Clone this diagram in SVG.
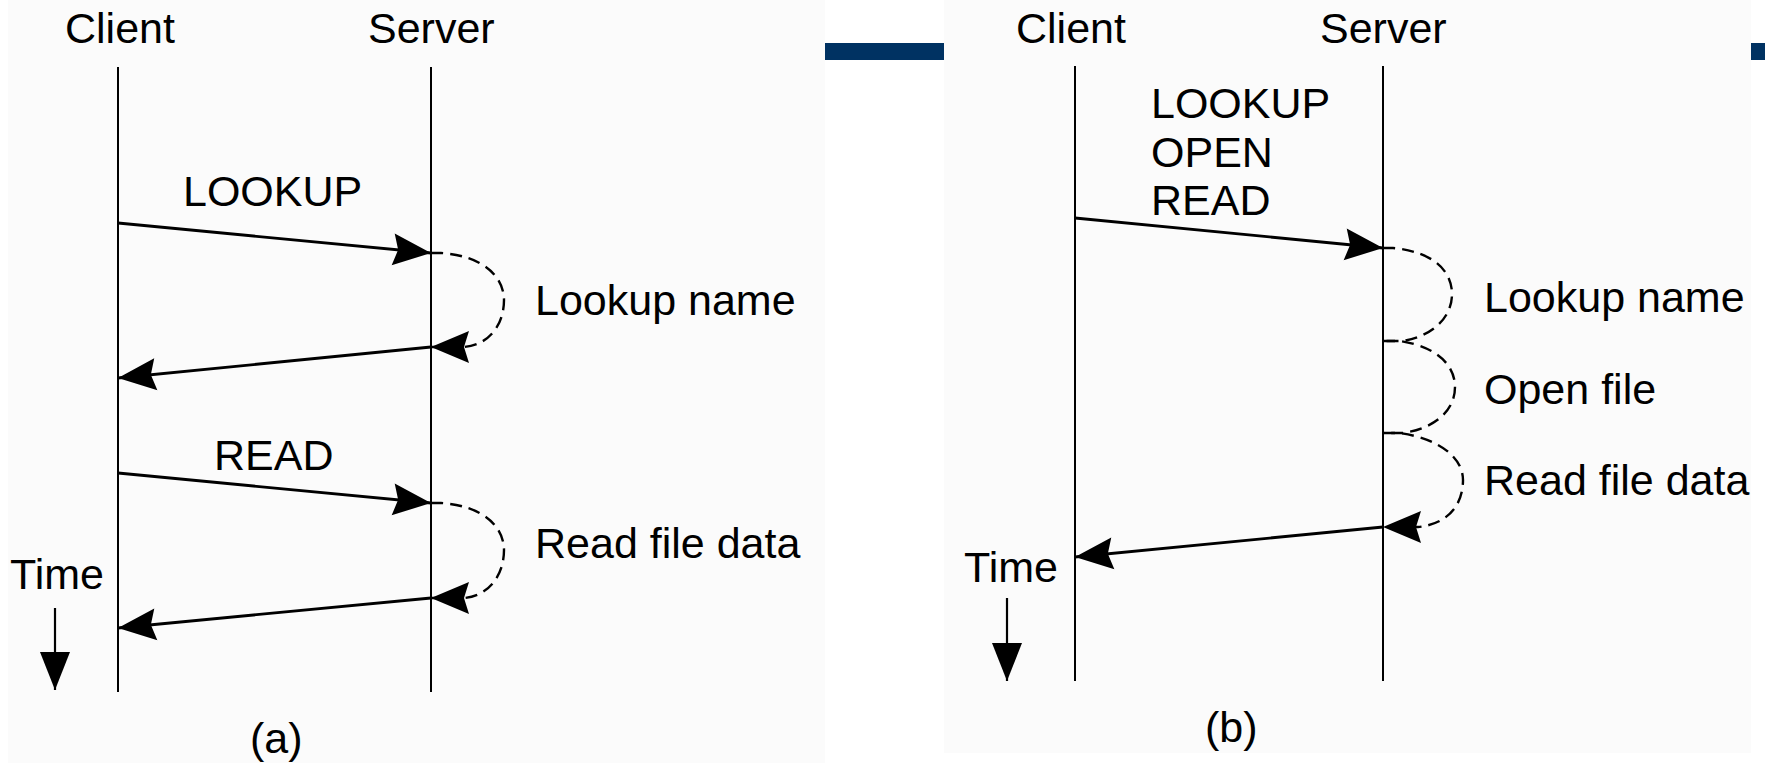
<svg xmlns="http://www.w3.org/2000/svg" width="1765" height="763" viewBox="0 0 1765 763">
  <style>
    .t { font-family: "Liberation Sans", Arial, sans-serif; font-size: 43px; fill: #000; }
    .life { stroke: #000; stroke-width: 2; fill: none; }
    .msg { stroke: #000; stroke-width: 2.8; fill: none; marker-end: url(#ah); }
    .dash { stroke: #000; stroke-width: 2.4; fill: none; stroke-dasharray: 12 7; }
    .dashend { marker-end: url(#ah); }
    .time { stroke: #000; stroke-width: 2.2; fill: none; marker-end: url(#tri); }
    .bar { fill: #003262; }
    .panel { fill: #fbfbfb; }
  </style>
  <defs>
    <marker id="ah" markerUnits="userSpaceOnUse" markerWidth="42" markerHeight="36" viewBox="-40 -18 42 36" refX="0" refY="0" orient="auto" overflow="visible">
      <path d="M0,0 L-38,-16 L-33,0 L-38,16 Z" fill="#000"/>
    </marker>
    <marker id="tri" markerUnits="userSpaceOnUse" markerWidth="42" markerHeight="36" viewBox="-40 -18 42 36" refX="0" refY="0" orient="auto" overflow="visible">
      <path d="M0,0 L-38,-15 L-38,15 Z" fill="#000"/>
    </marker>
  </defs>

  <rect width="1765" height="763" fill="#ffffff"/>
  <rect class="panel" x="8" y="0" width="817" height="763"/>
  <rect class="panel" x="944" y="0" width="807" height="753"/>
  <rect class="bar" x="825" y="43" width="119" height="17"/>
  <rect class="bar" x="1751" y="43" width="14" height="17"/>

  <!-- Panel (a) -->
  <g id="a-client">
    <text class="t" x="65" y="43">Client</text>
    <line class="life" x1="118" y1="67" x2="118" y2="692"/>
  </g>
  <g id="a-server">
    <text class="t" x="368" y="43">Server</text>
    <line class="life" x1="431" y1="67" x2="431" y2="692"/>
  </g>
  <g id="a-time">
    <text class="t" x="10" y="589">Time</text>
  </g>
  <g id="a-labels">
    <text class="t" x="183" y="206">LOOKUP</text>
    <text class="t" x="535" y="315">Lookup name</text>
    <text class="t" x="214" y="470">READ</text>
    <text class="t" x="535" y="558">Read file data</text>
    <text class="t" x="250" y="753">(a)</text>
  </g>

  <!-- Panel (b) -->
  <g id="b-client">
    <text class="t" x="1016" y="43">Client</text>
    <line class="life" x1="1075" y1="66" x2="1075" y2="681"/>
  </g>
  <g id="b-server">
    <text class="t" x="1320" y="43">Server</text>
    <line class="life" x1="1383" y1="66" x2="1383" y2="681"/>
  </g>
  <g id="b-time">
    <text class="t" x="964" y="582">Time</text>
  </g>
  <g id="b-labels">
    <text class="t" x="1151" y="118">LOOKUP</text>
    <text class="t" x="1151" y="167">OPEN</text>
    <text class="t" x="1151" y="215">READ</text>
    <text class="t" x="1484" y="312">Lookup name</text>
    <text class="t" x="1484" y="404">Open file</text>
    <text class="t" x="1484" y="495">Read file data</text>
    <text class="t" x="1205" y="742">(b)</text>
  </g>

  <g id="connectors">
    <!-- (a) -->
    <path class="msg" d="M118,223 L431,253"/>
    <path class="dash dashend" d="M431,253 L441,253 C485,256 504,278 504,300 C504,326 488,345 464,347 L431,347"/>
    <path class="msg" d="M431,347 L118,378"/>
    <path class="msg" d="M118,473 L431,503"/>
    <path class="dash dashend" d="M431,503 L441,503 C485,506 504,528 504,550 C504,576 488,596 464,598 L431,598"/>
    <path class="msg" d="M431,598 L118,628"/>
    <path class="time" d="M55,608 L55,690"/>
    <!-- (b) -->
    <path class="msg" d="M1075,218 L1383,248"/>
    <path class="dash" d="M1383,248 L1393,248 C1435,252 1452,272 1452,294 C1452,318 1432,336 1403,341 L1383,341"/>
    <path class="dash" d="M1383,341 L1400,341 C1438,347 1455,366 1455,387 C1455,410 1436,428 1403,433 L1383,433"/>
    <path class="dash dashend" d="M1383,433 L1400,433 C1440,439 1463,458 1463,480 C1463,505 1448,524 1418,527 L1383,527"/>
    <path class="msg" d="M1383,527 L1075,557"/>
    <path class="time" d="M1007,598 L1007,681"/>
  </g>
</svg>
